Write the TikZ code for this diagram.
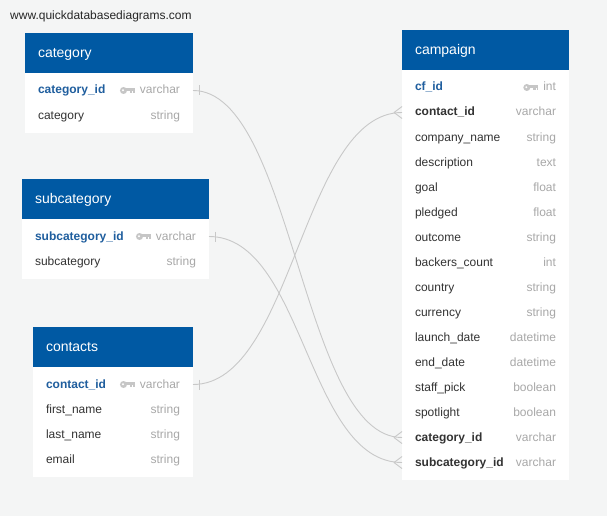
\documentclass[tikz,border=0pt]{standalone}
\usepackage{fontspec}
\setmainfont{Liberation Sans}
\usetikzlibrary{positioning}
\definecolor{bgc}{HTML}{F4F5F5}
\definecolor{hdrc}{HTML}{0059A3}
\definecolor{pkc}{HTML}{1F5E9E}
\definecolor{namec}{HTML}{333333}
\definecolor{typec}{HTML}{A8A8A8}
\definecolor{keyc}{HTML}{C6C6C6}
\definecolor{relc}{HTML}{C8C8C8}
\newcommand{\pk}[1]{{\color{pkc}\bfseries #1}}
\newcommand{\fk}[1]{{\color{namec}\bfseries #1}}
\newcommand{\nm}[1]{{\color{namec}#1}}
\newcommand{\ty}[1]{{\color{typec}#1}}
\newcommand{\pkey}{\tikz[x=1pt,y=1pt,baseline=-3.5pt]{%
    \fill[keyc] (3.5,0) circle (3.5);
    \fill[keyc] (5,-0.5) rectangle (15,2.2);
    \fill[keyc] (10,-2.7) rectangle (12.2,0);
    \fill[keyc] (13.2,-2.7) rectangle (15,0);
    \fill[white] (3,0.3) circle (1.1);}\hspace{5pt}}
\tikzset{
    site/.style={anchor=west, inner sep=0pt, text=black!85,
        font=\fontsize{12}{14}\selectfont},
    hdr/.style={anchor=north west, fill=hdrc, text=white, text width=#1,
        inner xsep=13pt, inner ysep=0pt, outer sep=0pt, minimum height=40pt,
        text height=9.5pt, text depth=0pt, font=\fontsize{14}{16}\selectfont},
    tbl/.style={fill=white, inner sep=0pt, outer sep=0pt, minimum width=#1},
    fld/.style={text width=#1, inner xsep=13pt, inner ysep=0pt, outer sep=0pt,
        minimum height=25pt, text height=7pt, text depth=0pt,
        font=\fontsize{12}{14}\selectfont},
    rel/.style={draw=relc, line width=0.9pt}
}

\begin{document}
\begin{tikzpicture}[x=1pt, y=-1pt]
    \fill [bgc] (0,0) rectangle (607,516);
    \node [site] (site) at (10,16) {www.quickdatabasediagrams.com};

    % category
    \node [hdr=142pt] (cath) at (25,33) {category};
    \node [tbl=168pt, minimum height=60pt, below=0pt of cath] (catb) {};
    \node [fld=142pt, below=5pt of catb.north] (cat1) {\pk{category\_id}\hfill\pkey\ty{varchar}};
    \node [fld=142pt, below=0pt of cat1] (cat2) {\nm{category}\hfill\ty{string}};

    % subcategory
    \node [hdr=161pt] (subh) at (22,179) {subcategory};
    \node [tbl=187pt, minimum height=60pt, below=0pt of subh] (subb) {};
    \node [fld=161pt, below=5pt of subb.north] (sub1) {\pk{subcategory\_id}\hfill\pkey\ty{varchar}};
    \node [fld=161pt, below=0pt of sub1] (sub2) {\nm{subcategory}\hfill\ty{string}};

    % contacts
    \node [hdr=134pt] (conh) at (33,327) {contacts};
    \node [tbl=160pt, minimum height=110pt, below=0pt of conh] (conb) {};
    \node [fld=134pt, below=5pt of conb.north] (con1) {\pk{contact\_id}\hfill\pkey\ty{varchar}};
    \node [fld=134pt, below=0pt of con1] (con2) {\nm{first\_name}\hfill\ty{string}};
    \node [fld=134pt, below=0pt of con2] (con3) {\nm{last\_name}\hfill\ty{string}};
    \node [fld=134pt, below=0pt of con3] (con4) {\nm{email}\hfill\ty{string}};

    % campaign
    \node [hdr=141pt] (cmph) at (402,30) {campaign};
    \node [tbl=167pt, minimum height=410pt, below=0pt of cmph] (cmpb) {};
    \node [fld=141pt, below=5pt of cmpb.north] (cmp1) {\pk{cf\_id}\hfill\pkey\ty{int}};
    \node [fld=141pt, below=0pt of cmp1] (cmp2) {\fk{contact\_id}\hfill\ty{varchar}};
    \node [fld=141pt, below=0pt of cmp2] (cmp3) {\nm{company\_name}\hfill\ty{string}};
    \node [fld=141pt, below=0pt of cmp3] (cmp4) {\nm{description}\hfill\ty{text}};
    \node [fld=141pt, below=0pt of cmp4] (cmp5) {\nm{goal}\hfill\ty{float}};
    \node [fld=141pt, below=0pt of cmp5] (cmp6) {\nm{pledged}\hfill\ty{float}};
    \node [fld=141pt, below=0pt of cmp6] (cmp7) {\nm{outcome}\hfill\ty{string}};
    \node [fld=141pt, below=0pt of cmp7] (cmp8) {\nm{backers\_count}\hfill\ty{int}};
    \node [fld=141pt, below=0pt of cmp8] (cmp9) {\nm{country}\hfill\ty{string}};
    \node [fld=141pt, below=0pt of cmp9] (cmp10) {\nm{currency}\hfill\ty{string}};
    \node [fld=141pt, below=0pt of cmp10] (cmp11) {\nm{launch\_date}\hfill\ty{datetime}};
    \node [fld=141pt, below=0pt of cmp11] (cmp12) {\nm{end\_date}\hfill\ty{datetime}};
    \node [fld=141pt, below=0pt of cmp12] (cmp13) {\nm{staff\_pick}\hfill\ty{boolean}};
    \node [fld=141pt, below=0pt of cmp13] (cmp14) {\nm{spotlight}\hfill\ty{boolean}};
    \node [fld=141pt, below=0pt of cmp14] (cmp15) {\fk{category\_id}\hfill\ty{varchar}};
    \node [fld=141pt, below=0pt of cmp15] (cmp16) {\fk{subcategory\_id}\hfill\ty{varchar}};

    % relations
    \draw [rel] (cat1.east) .. controls +(100,0) and +(-100,0) .. (cmp15.west);
    \draw [rel] (sub1.east) .. controls +(95,0) and +(-95,0) .. (cmp16.west);
    \draw [rel] (con1.east) .. controls +(100,0) and +(-100,0) .. (cmp2.west);
    \draw [rel] ([xshift=6pt]cat1.east) ++(0,-5) -- ++(0,10);
    \draw [rel] ([xshift=6pt]sub1.east) ++(0,-5) -- ++(0,10);
    \draw [rel] ([xshift=6pt]con1.east) ++(0,-5) -- ++(0,10);
    \draw [rel] (cmp15.west) ++(-8,0) coordinate (cf1) -- ++(8,-6) (cf1) -- ++(8,6);
    \draw [rel] (cmp16.west) ++(-8,0) coordinate (cf2) -- ++(8,-6) (cf2) -- ++(8,6);
    \draw [rel] (cmp2.west) ++(-8,0) coordinate (cf3) -- ++(8,-6) (cf3) -- ++(8,6);
\end{tikzpicture}
\end{document}
